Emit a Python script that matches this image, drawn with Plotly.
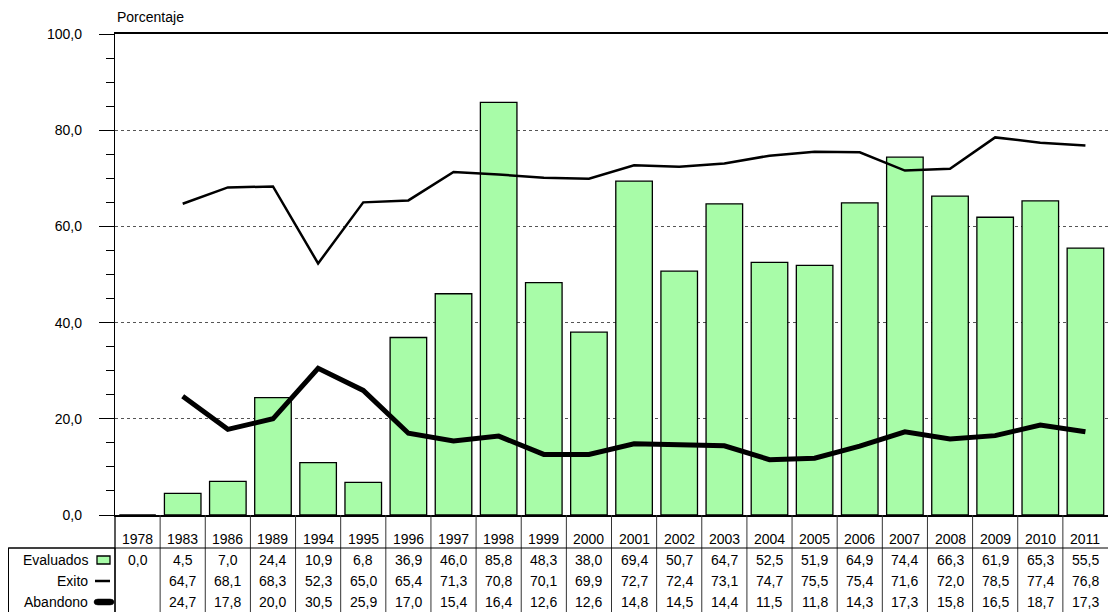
import plotly.graph_objects as go

years = ["1978", "1983", "1986", "1989", "1994", "1995", "1996", "1997", "1998", "1999", "2000",
         "2001", "2002", "2003", "2004", "2005", "2006", "2007", "2008", "2009", "2010", "2011"]
evaluados = [0.0, 4.5, 7.0, 24.4, 10.9, 6.8, 36.9, 46.0, 85.8, 48.3, 38.0,
             69.4, 50.7, 64.7, 52.5, 51.9, 64.9, 74.4, 66.3, 61.9, 65.3, 55.5]
exito = [None, 64.7, 68.1, 68.3, 52.3, 65.0, 65.4, 71.3, 70.8, 70.1, 69.9,
         72.7, 72.4, 73.1, 74.7, 75.5, 75.4, 71.6, 72.0, 78.5, 77.4, 76.8]
abandono = [None, 24.7, 17.8, 20.0, 30.5, 25.9, 17.0, 15.4, 16.4, 12.6, 12.6,
            14.8, 14.5, 14.4, 11.5, 11.8, 14.3, 17.3, 15.8, 16.5, 18.7, 17.3]
row_names = ["Evaluados", "Exito", "Abandono"]

W, H = 1109, 612
L, R, T, B = 115, 1, 34, 97
PW = W - L - R
PH = H - T - B
BAR_COLOR = "#a8fca8"
FONT = "Arial, Liberation Sans, sans-serif"
FS = 14


def py(p):
    return (H - B - p) / PH


def px(p):
    return (p - L) / PW


def fmt(v):
    return "" if v is None else f"{v:.1f}".replace(".", ",")


fig = go.Figure()
fig.add_trace(go.Bar(x=years, y=evaluados, name="Evaluados",
                     marker=dict(color=BAR_COLOR, line=dict(color="black", width=1.3)),
                     showlegend=False))
fig.add_trace(go.Scatter(x=years, y=exito, name="Exito", mode="lines",
                         line=dict(color="black", width=2.5), showlegend=False))
fig.add_trace(go.Scatter(x=years, y=abandono, name="Abandono", mode="lines",
                         line=dict(color="black", width=5), showlegend=False))

annotations = []
shapes = []

# Data table text (category axis: annotation x uses category index)
row_y = [560, 581, 602]
for i, yr in enumerate(years):
    annotations.append(dict(x=i, y=py(539), xref="x", yref="paper", text=yr,
                            showarrow=False, xanchor="center", yanchor="middle",
                            font=dict(size=FS, color="black", family=FONT)))
    for vals, ry in zip([evaluados, exito, abandono], row_y):
        t = fmt(vals[i])
        if not t:
            continue
        annotations.append(dict(x=i, y=py(ry), xref="x", yref="paper", text=t,
                                showarrow=False, xanchor="center", yanchor="middle",
                                font=dict(size=FS, color="black", family=FONT)))

# Row labels
for name, ry in zip(row_names, row_y):
    annotations.append(dict(x=px(90), y=py(ry), xref="paper", yref="paper", text=name,
                            showarrow=False, xanchor="right", yanchor="middle",
                            font=dict(size=FS, color="black", family=FONT)))

# Y axis title
annotations.append(dict(x=0, y=py(17), xref="paper", yref="paper", text="Porcentaje",
                        showarrow=False, xanchor="left", yanchor="middle",
                        font=dict(size=FS, color="black", family=FONT)))

# Table column separators
for i in range(1, len(years)):
    shapes.append(dict(type="line", xref="x", yref="paper", x0=i - 0.5, x1=i - 0.5,
                       y0=0, y1=py(H + 5), line=dict(color="#333333", width=1)))
shapes.append(dict(type="line", xref="paper", yref="paper", x0=0, x1=0,
                   y0=0, y1=py(H + 5), line=dict(color="black", width=1.3)))
# Horizontal separator
shapes.append(dict(type="line", xref="paper", yref="paper", x0=px(8), x1=1,
                   y0=py(548), y1=py(548), line=dict(color="black", width=1)))
# Legend box
shapes.append(dict(type="rect", xref="paper", yref="paper", x0=px(8.5), x1=0,
                   y0=py(548), y1=py(H + 5), line=dict(color="black", width=1)))
# Legend symbols
shapes.append(dict(type="rect", xref="paper", yref="paper", x0=px(97), x1=px(110),
                   y0=py(564), y1=py(556), fillcolor=BAR_COLOR,
                   line=dict(color="black", width=1.3)))
shapes.append(dict(type="line", xref="paper", yref="paper", x0=px(95), x1=px(110),
                   y0=py(581), y1=py(581), line=dict(color="black", width=2.5)))
# rounded thick symbol for Abandono
x_a, x_b = 98, 110
y_t, y_b = 599, 605
ab_path = (f"M {px(x_a)},{py(y_t)} L {px(x_b)},{py(y_t)} "
           f"Q {px(x_b + 4)},{py(y_t)} {px(x_b + 4)},{py(602)} "
           f"Q {px(x_b + 4)},{py(y_b)} {px(x_b)},{py(y_b)} "
           f"L {px(x_a)},{py(y_b)} "
           f"Q {px(x_a - 4)},{py(y_b)} {px(x_a - 4)},{py(602)} "
           f"Q {px(x_a - 4)},{py(y_t)} {px(x_a)},{py(y_t)} Z")
shapes.append(dict(type="path", xref="paper", yref="paper", path=ab_path,
                   fillcolor="black", line=dict(color="black", width=0.5)))

fig.update_layout(
    width=W, height=H,
    margin=dict(l=L, r=R, t=T, b=B),
    paper_bgcolor="white", plot_bgcolor="white",
    separators=",.",
    bargap=0.19,
    font=dict(family=FONT, size=FS, color="black"),
    annotations=annotations,
    shapes=shapes,
    xaxis=dict(type="category", showticklabels=False, ticks="", showgrid=False,
               showline=True, linecolor="black", linewidth=1.5, mirror=True,
               range=[-0.5, len(years) - 0.5], fixedrange=True),
    yaxis=dict(range=[0, 100], dtick=20, tickformat=".1f", showline=True,
               linecolor="black", linewidth=1.3, ticks="outside", ticklen=15,
               tickcolor="black", tickwidth=1.3, ticklabelstandoff=14,
               showgrid=True, gridcolor="#555555", griddash="dot", gridwidth=1,
               zeroline=False,
               minor=dict(dtick=5, ticks="outside", ticklen=8, tickcolor="black",
                          tickwidth=1.3, showgrid=False),
               tickfont=dict(size=FS, family=FONT, color="black")),
)

fig.write_html("out.html", config={"displayModeBar": False},
               post_script="document.body.style.margin='0';document.body.style.padding='0';")
